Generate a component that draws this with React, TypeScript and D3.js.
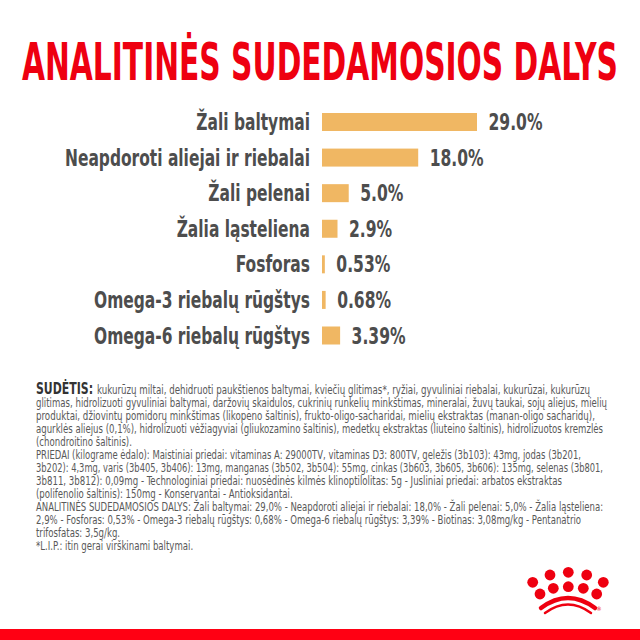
import React, { useEffect, useRef } from "react";
import * as d3 from "d3";

const titleText = "ANALITINĖS SUDEDAMOSIOS DALYS";

const categories = [
  "Žali baltymai",
  "Neapdoroti aliejai ir riebalai",
  "Žali pelenai",
  "Žalia ląsteliena",
  "Fosforas",
  "Omega-3 riebalų rūgštys",
  "Omega-6 riebalų rūgštys",
];
const values = [29.0, 18.0, 5.0, 2.9, 0.53, 0.68, 3.39];
const valueLabels = ["29.0%", "18.0%", "5.0%", "2.9%", "0.53%", "0.68%", "3.39%"];

const compositionLead = "SUDĖTIS:";
const bodyLines = [
  "kukurūzų miltai, dehidruoti paukštienos baltymai, kviečių glitimas*, ryžiai, gyvuliniai riebalai, kukurūzai, kukurūzų",
  "glitimas, hidrolizuoti gyvuliniai baltymai, daržovių skaidulos, cukrinių runkelių minkštimas, mineralai, žuvų taukai, sojų aliejus, mielių",
  "produktai, džiovintų pomidorų minkštimas (likopeno šaltinis), frukto-oligo-sacharidai, mielių ekstraktas (manan-oligo sacharidų),",
  "agurklės aliejus (0,1%), hidrolizuoti vėžiagyviai (gliukozamino šaltinis), medetkų ekstraktas (liuteino šaltinis), hidrolizuotos kremzlės",
  "(chondroitino šaltinis).",
  "PRIEDAI (kilograme ėdalo): Maistiniai priedai: vitaminas A: 29000TV, vitaminas D3: 800TV, geležis (3b103): 43mg, jodas (3b201,",
  "3b202): 4,3mg, varis (3b405, 3b406): 13mg, manganas (3b502, 3b504): 55mg, cinkas (3b603, 3b605, 3b606): 135mg, selenas (3b801,",
  "3b811, 3b812): 0,09mg - Technologiniai priedai: nuosėdinės kilmės klinoptilolitas: 5g - Jusliniai priedai: arbatos ekstraktas",
  "(polifenolio šaltinis): 150mg - Konservantai - Antioksidantai.",
  "ANALITINĖS SUDEDAMOSIOS DALYS: Žali baltymai: 29,0% - Neapdoroti aliejai ir riebalai: 18,0% - Žali pelenai: 5,0% - Žalia ląsteliena:",
  "2,9% - Fosforas: 0,53% - Omega-3 riebalų rūgštys: 0,68% - Omega-6 riebalų rūgštys: 3,39% - Biotinas: 3,08mg/kg - Pentanatrio",
  "trifosfatas: 3,5g/kg.",
  "*L.I.P.: itin gerai virškinami baltymai.",
];
const bodyLineEnds: (number | null)[] = [590, 607, 595, 603, null, 581, 603, 562, null, 603, 581, null, null];

const FONT = "'DejaVu Sans Condensed','Liberation Sans Narrow','Roboto Condensed','Roboto','Open Sans',sans-serif";

export default function App() {
  const ref = useRef<SVGSVGElement>(null);

  useEffect(() => {
    const svg = d3.select(ref.current);
    svg.selectAll("*").remove();
    const W = 640, H = 640;

    svg.append("rect").attr("width", W).attr("height", H).attr("fill", "#ffffff");

    // Title
    svg.append("text")
      .attr("x", 22).attr("y", 80)
      .attr("font-family", FONT).attr("font-weight", 700).attr("font-size", 51)
      .attr("fill", "#ee0010")
      .attr("textLength", 596).attr("lengthAdjust", "spacingAndGlyphs")
      .text(titleText);

    // Bars
    const x = d3.scaleLinear().domain([0, 29]).range([322, 477]);
    const y = d3.scalePoint<string>().domain(categories).range([122, 335.5]);
    const barH = 18;
    const g = svg.append("g");

    g.selectAll("rect.bar").data(values).join("rect")
      .attr("class", "bar")
      .attr("x", x(0))
      .attr("y", (_, i) => (y(categories[i]) as number) - barH / 2)
      .attr("width", (d) => x(d) - x(0))
      .attr("height", barH)
      .attr("fill", "#F0B763");

    const labels = g.selectAll<SVGTextElement, string>("text.label").data(categories).join("text")
      .attr("class", "label")
      .attr("y", (d) => (y(d) as number) + 8)
      .attr("font-family", FONT).attr("font-weight", 700).attr("font-size", 23)
      .attr("fill", "#4d4d4d")
      .text((d) => d);
    const labNodes = labels.nodes();
    const kLab = 245 / labNodes[1].getComputedTextLength();
    labels.each(function () {
      const w = this.getComputedTextLength() * kLab;
      d3.select(this).attr("x", 310 - w).attr("textLength", w).attr("lengthAdjust", "spacingAndGlyphs");
    });

    const vals = g.selectAll<SVGTextElement, number>("text.val").data(values).join("text")
      .attr("class", "val")
      .attr("y", (_, i) => (y(categories[i]) as number) + 8)
      .attr("x", (d) => x(d) + 11.5)
      .attr("font-family", FONT).attr("font-weight", 700).attr("font-size", 23)
      .attr("fill", "#4d4d4d")
      .text((_, i) => valueLabels[i]);
    const kVal = 54 / vals.nodes()[0].getComputedTextLength();
    vals.each(function () {
      const w = this.getComputedTextLength() * kVal;
      d3.select(this).attr("textLength", w).attr("lengthAdjust", "spacingAndGlyphs");
    });

    // Body text
    const body = svg.append("g");
    const baseline0 = 394, step = 13;
    body.append("text")
      .attr("x", 36).attr("y", baseline0)
      .attr("font-family", FONT).attr("font-weight", 700).attr("font-size", 16)
      .attr("fill", "#333333")
      .attr("textLength", 57).attr("lengthAdjust", "spacingAndGlyphs")
      .text(compositionLead);

    const lines = body.selectAll<SVGTextElement, string>("text.line").data(bodyLines).join("text")
      .attr("class", "line")
      .attr("x", (_, i) => (i === 0 ? 97 : 36))
      .attr("y", (_, i) => baseline0 + i * step)
      .attr("font-family", FONT).attr("font-size", 12)
      .attr("fill", "#595959")
      .text((d) => d);
    const lnNodes = lines.nodes();
    const kBody = (607 - 36) / lnNodes[1].getComputedTextLength();
    lines.each(function (_, i) {
      const start = i === 0 ? 97 : 36;
      const end = bodyLineEnds[i];
      const w = end != null ? end - start : this.getComputedTextLength() * kBody;
      d3.select(this).attr("textLength", w).attr("lengthAdjust", "spacingAndGlyphs");
    });

    // Logo (crown)
    const logo = svg.append("g").attr("fill", "#ee0010");
    const dots: [number, number][] = [
      [532.7, 582.3], [603.3, 582.3],
      [540, 594], [553.3, 588.3], [568.3, 586.7], [583.3, 588.3], [596.7, 594],
      [550, 575], [568.3, 572.3], [586.7, 575],
    ];
    logo.selectAll("circle").data(dots).join("circle")
      .attr("cx", (d) => d[0]).attr("cy", (d) => d[1]).attr("r", 5.4);
    logo.append("path")
      .attr("d", "M541,608 Q568,588 595,608")
      .attr("fill", "none").attr("stroke", "#ee0010").attr("stroke-width", 4.5).attr("stroke-linecap", "round");
    logo.append("path")
      .attr("d", "M545,613 Q568,596 591,613")
      .attr("fill", "none").attr("stroke", "#ee0010").attr("stroke-width", 2.5).attr("stroke-linecap", "round");
    logo.append("text")
      .attr("x", 599).attr("y", 611).attr("font-size", 6).attr("font-family", FONT).attr("text-anchor", "middle")
      .text("®");

    // Bottom red band
    svg.append("rect").attr("x", 0).attr("y", 629).attr("width", W).attr("height", 11).attr("fill", "#ff0013");
  }, []);

  return (
    <svg
      ref={ref}
      width={640}
      height={640}
      style={{ position: "absolute", left: 0, top: 0, display: "block" }}
    />
  );
}
